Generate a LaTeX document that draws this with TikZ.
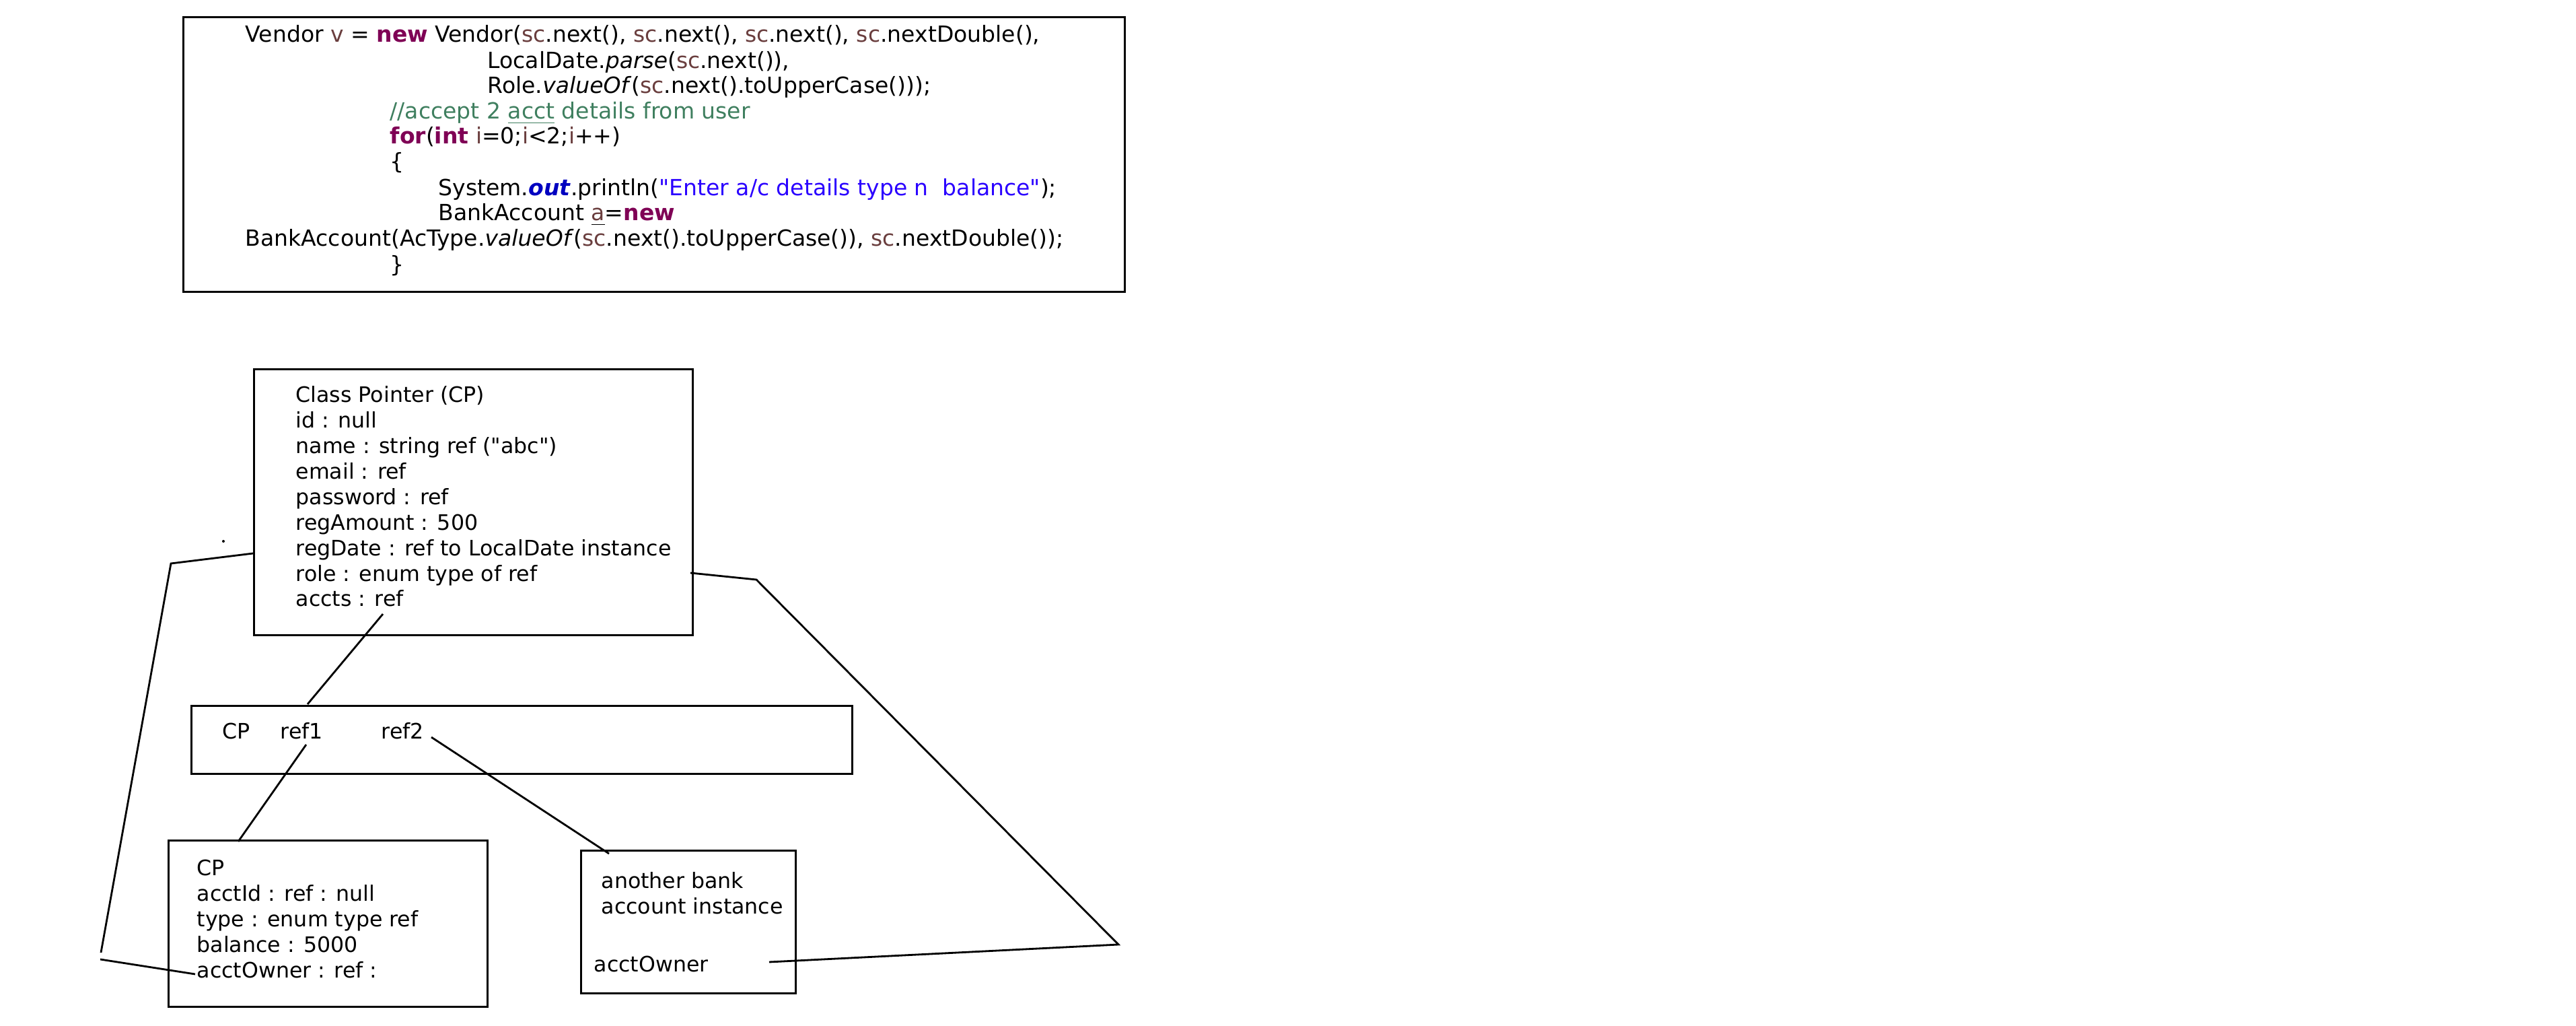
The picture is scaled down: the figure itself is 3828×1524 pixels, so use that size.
\documentclass[tikz,border=0pt]{standalone}
\usepackage{fontspec}
\setmainfont{DejaVu Sans}
\usetikzlibrary{positioning}
\usepackage{xcolor}
\definecolor{kwcol}{HTML}{7F0055}
\definecolor{varcol}{HTML}{6A3E3E}
\definecolor{cmtcol}{HTML}{3F7F5F}
\definecolor{strcol}{HTML}{2A00FF}
\definecolor{fldcol}{HTML}{0000C0}
\newcommand{\kw}[1]{\textcolor{kwcol}{\textbf{#1}}}
\newcommand{\lv}[1]{\textcolor{varcol}{#1}}
\newcommand{\cmt}[1]{\textcolor{cmtcol}{#1}}
\newcommand{\str}[1]{\textcolor{strcol}{#1}}
\newcommand{\fld}[1]{\textcolor{fldcol}{\textbf{\textit{#1}}}}
\newcommand{\dq}{\textquotedbl}

\begin{document}
\begin{tikzpicture}[%
    x=0.1mm, y=-0.1mm,%
    box/.style={draw, line width=0.9pt, inner sep=0pt, anchor=north west},%
    txt/.style={anchor=base west, inner sep=0pt, align=left,%
      font=\fontsize{9pt}{10.8pt}\selectfont},%
    codetxt/.style={txt, font=\fontsize{9.4pt}{10.8pt}\selectfont},%
    link/.style={line width=0.8pt}%
  ]
  \useasboundingbox (0,0) rectangle (3828,1524);%

  % Boxes
  \node[box, minimum width=139.9mm, minimum height=40.8mm] (code) at (271,24) {};%
  \node[box, minimum width=65.2mm, minimum height=39.5mm] (cls) at (376,547) {};%
  \node[box, minimum width=98.2mm, minimum height=10.1mm] (arr) at (283,1047) {};%
  \node[box, minimum width=47.4mm, minimum height=24.7mm] (acct) at (249,1247) {};%
  \node[box, minimum width=31.9mm, minimum height=21.2mm] (other) at (862,1262) {};%

  % Code
  \node[codetxt] (c1) at (364,63) {Vendor \lv{v} = \kw{new} Vendor(\lv{sc}.next(), \lv{sc}.next(), \lv{sc}.next(), \lv{sc}.nextDouble(),};%
  \node[codetxt] (c2) at (724,102) {LocalDate.\textit{parse}(\lv{sc}.next()),};%
  \node[codetxt] (c3) at (724,139) {Role.\textit{valueOf}(\lv{sc}.next().toUpperCase()));};%
  \node[codetxt] (c4) at (579,177) {\cmt{//accept 2 \underline{acct} details from user}};%
  \node[codetxt] (c5) at (579,214) {\kw{for}(\kw{int} \lv{i}=0;\lv{i}<2;\lv{i}++)};%
  \node[codetxt] (c6) at (579,252) {\{};%
  \node[codetxt] (c7) at (651,291) {System.\fld{out}.println(\str{\dq Enter a/c details type n\ \ balance\dq});};%
  \node[codetxt] (c8) at (651,328) {BankAccount \underline{\lv{a}}=\kw{new}};%
  \node[codetxt] (c9) at (364,366) {BankAccount(AcType.\textit{valueOf}(\lv{sc}.next().toUpperCase()), \lv{sc}.nextDouble());};%
  \node[codetxt] (c10) at (579,405) {\}};%

  % Object texts (anchored on the last line)
  \node[txt] (clsText) at (439,901) {Class Pointer (CP)\\ id : null\\ name : string ref (\dq abc\dq)\\ email : ref\\ password : ref\\ regAmount : 500\\ regDate : ref to LocalDate instance\\ role : enum type of ref\\ accts : ref};%
  \node[txt] (cp) at (330,1098) {CP};%
  \node[txt] (ref1) at (416,1098) {ref1};%
  \node[txt] (ref2) at (566,1098) {ref2};%
  \node[txt] (acctText) at (292,1452) {CP\\ acctId : ref : null\\ type : enum type ref\\ balance : 5000\\ acctOwner : ref :};%
  \node[txt] (otherText) at (893,1357) {another bank\\ account instance};%
  \node[txt] (owner) at (882,1443) {acctOwner};%

  % Coordinates
  \coordinate (accts) at (569,912);%
  \coordinate (arrTop) at (457,1046);%
  \coordinate (r1) at (455,1106);%
  \coordinate (acctTop) at (354,1250);%
  \coordinate (r2) at (641,1095);%
  \coordinate (otherTop) at (905,1268);%
  \coordinate (L1) at (376,822);%
  \coordinate (L2) at (254,837);%
  \coordinate (L3) at (150,1415);%
  \coordinate (L4) at (149,1425);%
  \coordinate (L5) at (290,1447);%
  \coordinate (R1) at (1026,851);%
  \coordinate (R2) at (1124,861);%
  \coordinate (R3) at (1662,1403);%
  \coordinate (R4) at (1143,1429);%

  % Lines
  \draw[link] (accts) -- (arrTop);%
  \draw[link] (r1) -- (acctTop);%
  \draw[link] (r2) -- (otherTop);%
  \draw[link] (L1) -- (L2) -- (L3);%
  \draw[link] (L4) -- (L5);%
  \draw[link] (R1) -- (R2) -- (R3) -- (R4);%
  \fill (332,804) circle (2);%
\end{tikzpicture}
\end{document}
